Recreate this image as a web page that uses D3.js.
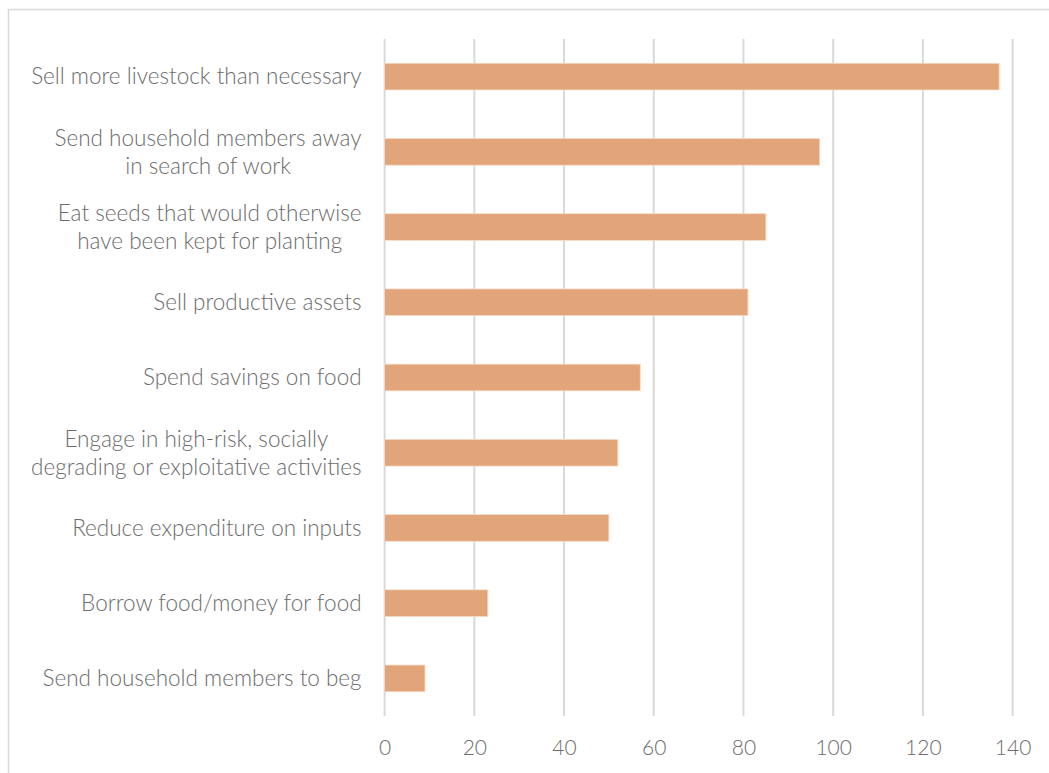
<!DOCTYPE html>
<html>
<head>
<meta charset="utf-8">
<script src="https://cdn.jsdelivr.net/npm/d3@7"></script>
<style>
  html, body { margin: 0; padding: 0; background: #fff; }
  svg { display: block; }
</style>
</head>
<body>
<svg id="chart" width="1049" height="773"></svg>
<script>
// Coping strategies and number of households reporting each
const strategies = [
  ["Sell more livestock than necessary"],
  ["Send household members away", "in search of work"],
  ["Eat seeds that would otherwise", "have been kept for planting"],
  ["Sell productive assets"],
  ["Spend savings on food"],
  ["Engage in high-risk, socially", "degrading or exploitative activities"],
  ["Reduce expenditure on inputs"],
  ["Borrow food/money for food"],
  ["Send household members to beg"]
];
const counts = [137, 97, 85, 81, 57, 52, 50, 23, 9];
const xTicks = [0, 20, 40, 60, 80, 100, 120, 140];

const W = 1049, H = 773;
const plot = { left: 384.6, right: 1012.6, top: 39, bottom: 716 };
const fontFamily = "Lato, 'Open Sans', sans-serif";
const textColor = "#6c6c6c";
const gridColor = "#d9d9d9";
const barColor = "#e2a479";

const svg = d3.select("#chart");

// outer chart frame
svg.append("rect")
  .attr("x", 8.5).attr("y", 9.5)
  .attr("width", W + 10).attr("height", H + 10)
  .attr("fill", "#fff")
  .attr("stroke", gridColor).attr("stroke-width", 1.5);

const x = d3.scaleLinear().domain([0, 140]).range([plot.left, plot.right]);
const y = d3.scaleBand()
  .domain(d3.range(strategies.length))
  .range([plot.top, plot.bottom])
  .paddingInner(0.645).paddingOuter(0.3225);

// vertical gridlines
svg.append("g")
  .selectAll("line")
  .data(xTicks)
  .join("line")
  .attr("x1", d => x(d)).attr("x2", d => x(d))
  .attr("y1", plot.top).attr("y2", plot.bottom)
  .attr("stroke", gridColor).attr("stroke-width", 2);

// bars
svg.append("g")
  .selectAll("rect")
  .data(counts)
  .join("rect")
  .attr("x", x(0))
  .attr("y", (d, i) => y(i))
  .attr("width", d => x(d) - x(0))
  .attr("height", y.bandwidth())
  .attr("fill", barColor)
  .attr("stroke", "#f6dcc8").attr("stroke-width", 0.8);

// x-axis tick labels
const xAxis = d3.axisBottom(x).tickValues(xTicks).tickSize(0).tickPadding(0);
const gx = svg.append("g")
  .attr("transform", `translate(0,${plot.bottom + 39})`)
  .call(xAxis);
gx.select(".domain").remove();
gx.selectAll("text")
  .attr("y", 0).attr("dy", 0)
  .attr("fill", textColor)
  .style("font-family", fontFamily)
  .style("font-weight", 300)
  .style("font-size", "21px");

// category labels: each block sits against the axis, wrapped lines centred within it
const lineGap = 28;
const labelRight = plot.left - 23;
const labels = svg.append("g")
  .selectAll("text")
  .data(strategies)
  .join("text")
  .attr("text-anchor", "middle")
  .attr("fill", textColor)
  .style("font-family", fontFamily)
  .style("font-weight", 300)
  .style("font-size", "22.5px")
  .attr("transform", (d, i) => `translate(0,${y(i) + y.bandwidth() / 2})`);

labels.selectAll("tspan")
  .data(d => d.map((t, k) => ({ t, k, n: d.length })))
  .join("tspan")
  .attr("y", d => (d.k - (d.n - 1) / 2) * lineGap)
  .attr("dy", "0.35em")
  .text(d => d.t);

labels.each(function () {
  const spans = d3.select(this).selectAll("tspan");
  const widest = d3.max(spans.nodes(), n => n.getComputedTextLength());
  spans.attr("x", labelRight - widest / 2);
});
</script>
</body>
</html>
